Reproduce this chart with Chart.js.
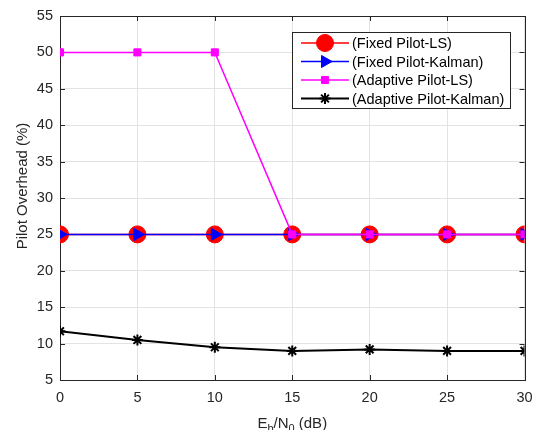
<!DOCTYPE html>
<html>
<head>
<meta charset="utf-8">
<title>Pilot Overhead</title>
<script src="https://cdn.jsdelivr.net/npm/chart.js@4.4.1/dist/chart.umd.min.js"></script>
<style>
  html, body { margin: 0; padding: 0; background: #fff; }
  #wrap { width: 534px; height: 430px; position: relative; }
</style>
</head>
<body>
<div id="wrap"><canvas id="overheadChart"></canvas></div>
<script>
const snrDb = [0, 5, 10, 15, 20, 25, 30];
const fixedLs = [25, 25, 25, 25, 25, 25, 25];
const fixedKalman = [25, 25, 25, 25, 25, 25, 25];
const adaptiveLs = [50, 50, 50, 25, 25, 25, 25];
const adaptiveKalman = [11.7, 10.5, 9.5, 9.0, 9.2, 9.0, 9.0];
const yTicks = [5, 10, 15, 20, 25, 30, 35, 40, 45, 50, 55];

const axisColor = "#262626";
const fontFamily = "Arial, 'Liberation Sans', Helvetica, sans-serif";

const toPoints = (ys) => ys.map((y, i) => ({ x: snrDb[i], y: y }));

// matlab style box with inward ticks
const boxPlugin = {
  id: "box",
  beforeDatasetsDraw(chart) {
    const { ctx, chartArea: a, scales } = chart;
    ctx.save();
    ctx.strokeStyle = axisColor;
    ctx.lineWidth = 1;
    ctx.beginPath();
    scales.x.ticks.forEach((t) => {
      const px = Math.round(scales.x.getPixelForValue(t.value)) + 0.5;
      ctx.moveTo(px, a.bottom); ctx.lineTo(px, a.bottom - 5);
      ctx.moveTo(px, a.top); ctx.lineTo(px, a.top + 5);
    });
    scales.y.ticks.forEach((t) => {
      const py = Math.round(scales.y.getPixelForValue(t.value)) + 0.5;
      ctx.moveTo(a.left, py); ctx.lineTo(a.left + 5, py);
      ctx.moveTo(a.right, py); ctx.lineTo(a.right - 5, py);
    });
    ctx.stroke();
    ctx.strokeRect(Math.round(a.left) + 0.5, Math.round(a.top) + 0.5,
      Math.round(a.right - a.left), Math.round(a.bottom - a.top));
    ctx.restore();
  },
  afterDraw(chart) {
    const { ctx, chartArea: a } = chart;
    ctx.save();
    ctx.fillStyle = axisColor;
    // y title
    ctx.font = "15px " + fontFamily;
    ctx.textAlign = "center";
    ctx.textBaseline = "middle";
    ctx.translate(23, 186);
    ctx.rotate(-Math.PI / 2);
    ctx.fillText("Pilot Overhead (%)", 0, 0);
    ctx.restore();

    // x title with subscripts: E_b/N_0 (dB)
    ctx.save();
    ctx.fillStyle = axisColor;
    ctx.textBaseline = "alphabetic";
    ctx.textAlign = "left";
    const parts = [
      { t: "E", sub: false }, { t: "b", sub: true },
      { t: "/N", sub: false }, { t: "0", sub: true },
      { t: " (dB)", sub: false },
    ];
    const big = "15px " + fontFamily, small = "11px " + fontFamily;
    let total = 0;
    parts.forEach((p) => { ctx.font = p.sub ? small : big; p.w = ctx.measureText(p.t).width; total += p.w; });
    let x = (a.left + a.right) / 2 - total / 2;
    const base = 428;
    parts.forEach((p) => {
      ctx.font = p.sub ? small : big;
      ctx.fillText(p.t, x, p.sub ? base + 4 : base);
      x += p.w;
    });
    ctx.restore();
  },
};

// legend drawn inside the axes, line sample with marker in the middle
const legendPlugin = {
  id: "insideLegend",
  afterDraw(chart) {
    const { ctx } = chart;
    const box = { x: 292, y: 32, w: 218, h: 76 };
    const rows = [43, 61.5, 80, 98.5];
    ctx.save();
    ctx.fillStyle = "#fff";
    ctx.fillRect(box.x, box.y, box.w, box.h);
    ctx.strokeStyle = axisColor;
    ctx.lineWidth = 1;
    ctx.strokeRect(box.x + 0.5, box.y + 0.5, box.w, box.h);
    ctx.font = "14.5px " + fontFamily;
    ctx.textBaseline = "middle";
    chart.data.datasets.forEach((ds, i) => {
      const y = rows[i];
      ctx.strokeStyle = ds.borderColor;
      ctx.lineWidth = ds.borderWidth;
      ctx.beginPath();
      ctx.moveTo(301, y); ctx.lineTo(349, y);
      ctx.stroke();
      ctx.fillStyle = ds.pointBackgroundColor;
      ctx.strokeStyle = ds.pointBorderColor;
      ctx.lineWidth = ds.pointBorderWidth;
      Chart.helpers.drawPoint(ctx, {
        pointStyle: ds.pointStyle,
        radius: ds.pointRadius,
        rotation: ds.pointRotation || 0,
        borderWidth: ds.pointBorderWidth,
      }, 325, y);
      ctx.fillStyle = "#000";
      ctx.fillText(ds.label, 352, y + 1);
    });
    ctx.restore();
  },
};

new Chart(document.getElementById("overheadChart"), {
  type: "line",
  data: {
    datasets: [
      {
        label: "(Fixed Pilot-LS)",
        data: toPoints(fixedLs),
        borderColor: "#ff0000",
        borderWidth: 1.5,
        pointStyle: "circle",
        pointRadius: 8.5,
        pointBackgroundColor: "#ff0000",
        pointBorderColor: "#ff0000",
        pointBorderWidth: 1,
        order: 4,
      },
      {
        label: "(Fixed Pilot-Kalman)",
        data: toPoints(fixedKalman),
        borderColor: "#0000ff",
        borderWidth: 1.5,
        pointStyle: "triangle",
        pointRotation: 90,
        pointRadius: 7,
        pointBackgroundColor: "#0000ff",
        pointBorderColor: "#0000ff",
        pointBorderWidth: 1,
        order: 3,
      },
      {
        label: "(Adaptive Pilot-LS)",
        data: toPoints(adaptiveLs),
        borderColor: "#ff00ff",
        borderWidth: 1.5,
        pointStyle: "rect",
        pointRadius: 5,
        pointBackgroundColor: "#ff00ff",
        pointBorderColor: "#ff00ff",
        pointBorderWidth: 1,
        order: 2,
      },
      {
        label: "(Adaptive Pilot-Kalman)",
        data: toPoints(adaptiveKalman),
        borderColor: "#000000",
        borderWidth: 2,
        pointStyle: "star",
        pointRadius: 5.5,
        pointBackgroundColor: "#000000",
        pointBorderColor: "#000000",
        pointBorderWidth: 2,
        order: 1,
      },
    ],
  },
  options: {
    responsive: true,
    maintainAspectRatio: false,
    animation: false,
    layout: { padding: { left: 0, top: 16, right: 8, bottom: 0 } },
    plugins: { legend: { display: false }, tooltip: { enabled: false } },
    elements: { line: { tension: 0 } },
    scales: {
      x: {
        type: "linear",
        min: 0,
        max: 30,
        ticks: { stepSize: 5, color: axisColor, padding: 9, font: { size: 14.5, family: fontFamily } },
        grid: { color: "#e3e3e3", drawTicks: false },
        border: { display: false },
        afterFit: (scale) => {
          scale.height = 50;
          scale.paddingLeft = 0;
          scale.paddingRight = 0;
        },
      },
      y: {
        type: "linear",
        min: 5,
        max: 55,
        afterBuildTicks: (scale) => { scale.ticks = yTicks.map((v) => ({ value: v })); },
        ticks: { color: axisColor, padding: 7, font: { size: 14.5, family: fontFamily } },
        grid: { color: "#e3e3e3", drawTicks: false },
        border: { display: false },
        afterFit: (scale) => {
          scale.width = 60;
          scale.paddingTop = 0;
          scale.paddingBottom = 0;
        },
      },
    },
  },
  plugins: [boxPlugin, legendPlugin],
});
</script>
</body>
</html>
